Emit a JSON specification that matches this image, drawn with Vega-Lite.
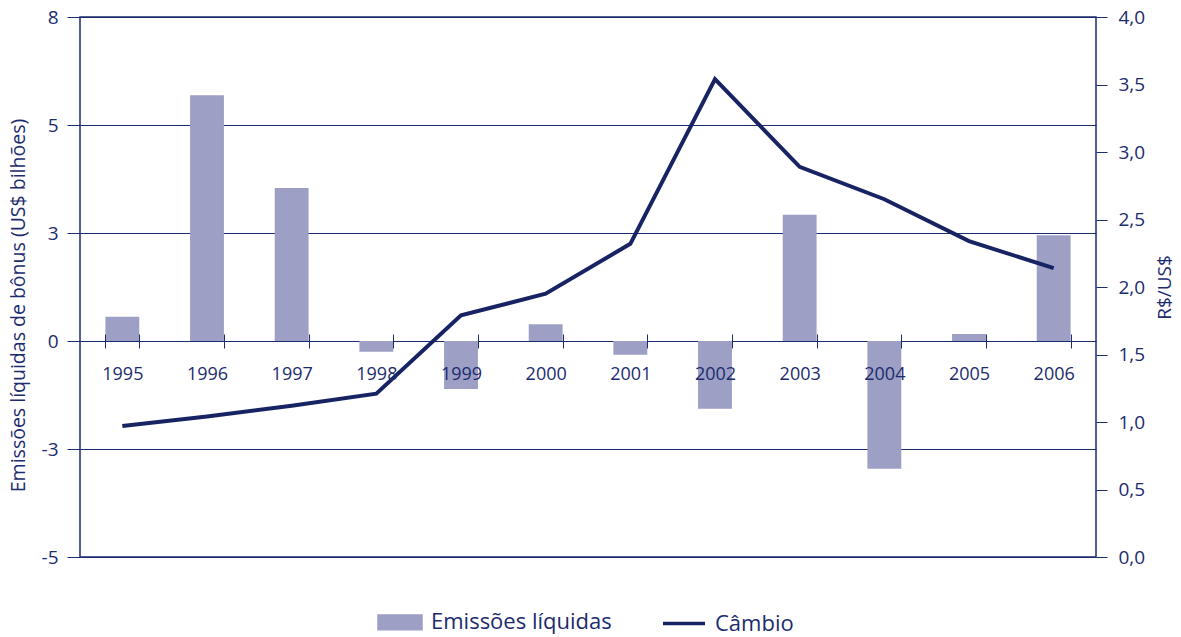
{
  "$schema": "https://vega.github.io/schema/vega-lite/v6.json",
  "autosize": "none",
  "width": 1016,
  "height": 540,
  "padding": {"left": 80, "top": 17, "right": 85, "bottom": 80},
  "background": "white",
  "data": {
    "values": [
      {"ano": "1995", "emissoes": 0.56, "cambio": 0.97},
      {"ano": "1996", "emissoes": 5.69, "cambio": 1.04},
      {"ano": "1997", "emissoes": 3.54, "cambio": 1.12},
      {"ano": "1998", "emissoes": -0.25, "cambio": 1.21},
      {"ano": "1999", "emissoes": -1.11, "cambio": 1.79},
      {"ano": "2000", "emissoes": 0.39, "cambio": 1.95},
      {"ano": "2001", "emissoes": -0.32, "cambio": 2.32},
      {"ano": "2002", "emissoes": -1.57, "cambio": 3.54},
      {"ano": "2003", "emissoes": 2.92, "cambio": 2.89},
      {"ano": "2004", "emissoes": -2.96, "cambio": 2.65},
      {"ano": "2005", "emissoes": 0.16, "cambio": 2.34},
      {"ano": "2006", "emissoes": 2.45, "cambio": 2.14}
    ]
  },
  "encoding": {
    "x": {
      "field": "ano",
      "type": "ordinal",
      "scale": {"paddingInner": 0.6, "paddingOuter": 0.3},
      "axis": {
        "orient": "bottom",
        "offset": -223,
        "zindex": 1,
        "title": null,
        "domain": false,
        "ticks": true,
        "tickBand": "extent",
        "tickSize": 14,
        "tickColor": "#1c2b6e",
        "labelAngle": 0,
        "labelPadding": 17,
        "labelFontSize": 18,
        "grid": false
      }
    }
  },
  "layer": [
    {
      "mark": {"type": "bar", "color": "#9d9fc5"},
      "encoding": {
        "y": {
          "field": "emissoes",
          "type": "quantitative",
          "scale": {"domain": [-5, 7.5], "nice": false, "zero": false},
          "axis": {
            "orient": "left",
            "values": [-5, -2.5, 0, 2.5, 5, 7.5],
            "labelExpr": "datum.value == 7.5 ? '8' : datum.value == 5 ? '5' : datum.value == 2.5 ? '3' : datum.value == 0 ? '0' : datum.value == -2.5 ? '-3' : '-5'",
            "title": "Emissões líquidas de bônus (US$ bilhões)",
            "titleFontSize": 19.5,
            "titleFontWeight": "normal",
            "titlePadding": 13,
            "titleY": 288,
            "grid": true,
            "gridColor": "#1c2b6e",
            "gridWidth": 1,
            "gridOpacity": 1,
            "domain": false,
            "tickSize": 13,
            "tickColor": "#1c2b6e",
            "labelPadding": 9,
            "labelFontSize": 19
          }
        },
        "color": {
          "datum": "Emissões líquidas",
          "type": "nominal",
          "scale": {"domain": ["Emissões líquidas", "Câmbio"], "range": ["#9d9fc5", "#172363"]},
          "legend": {
            "orient": "none",
            "direction": "horizontal",
            "legendX": 297,
            "legendY": 582,
            "title": null,
            "padding": 0,
            "columnPadding": 44,
            "symbolSize": 1764,
            "labelFontSize": 22,
            "labelLimit": 0,
            "labelColor": "#1c2b6e",
            "labelOffset": 8,
            "encode": {
              "symbols": {
                "update": {
                  "shape": {"signal": "datum.value === 'Câmbio' ? 'M-1,0H1' : 'M-1,-0.3H1V0.3H-1Z'"},
                  "fill": {"signal": "datum.value === 'Câmbio' ? 'transparent' : '#9d9fc5'"},
                  "stroke": {"signal": "datum.value === 'Câmbio' ? '#172363' : 'transparent'"},
                  "strokeWidth": {"value": 3.5},
                  "opacity": {"value": 1},
                  "fillOpacity": {"value": 1},
                  "strokeOpacity": {"value": 1}
                }
              }
            }
          }
        }
      }
    },
    {
      "mark": {"type": "line", "color": "#172363", "strokeWidth": 4},
      "encoding": {
        "y": {
          "field": "cambio",
          "type": "quantitative",
          "scale": {"domain": [0, 4], "nice": false},
          "axis": {
            "orient": "right",
            "values": [0, 0.5, 1, 1.5, 2, 2.5, 3, 3.5, 4],
            "labelExpr": "replace(format(datum.value, '.1f'), '.', ',')",
            "title": "R$/US$",
            "titleFontSize": 19,
            "titleFontWeight": "normal",
            "titleAngle": -90,
            "titleBaseline": "top",
            "titlePadding": 11,
            "grid": false,
            "domain": false,
            "tickSize": 11,
            "tickColor": "#1c2b6e",
            "labelPadding": 11,
            "labelFontSize": 19
          }
        },
        "color": {"datum": "Câmbio", "type": "nominal"}
      }
    }
  ],
  "resolve": {"scale": {"y": "independent"}},
  "config": {
    "font": "Open Sans",
    "view": {"stroke": "#1c2b6e", "strokeWidth": 1.5},
    "axis": {"labelColor": "#1c2b6e", "titleColor": "#1c2b6e", "labelFont": "Open Sans", "titleFont": "Open Sans"},
    "legend": {"labelFont": "Open Sans"}
  }
}
